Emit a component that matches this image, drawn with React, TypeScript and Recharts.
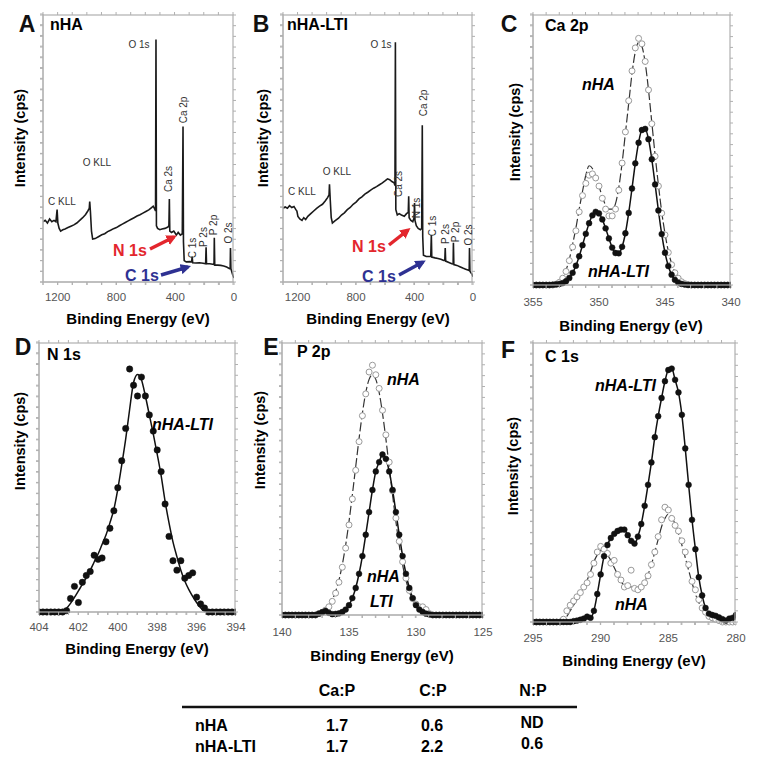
import React from "react";
import { ComposedChart, Line, XAxis, YAxis } from "recharts";

const FONT = "'Liberation Sans', Arial, Helvetica, sans-serif";
const FRAME = "#b0b0b0";

// survey spectra (binding energy eV, intensity a.u.)
const nhaSurvey: [number, number][] = [
  [1300, 22.5], [1285, 23], [1270, 22], [1255, 23.5], [1240, 22.5], [1225, 23], [1212, 22.5], [1204, 27], [1199, 22],
  [1190, 20], [1180, 19], [1165, 19.5], [1150, 19.8], [1130, 20.3], [1110, 20.8], [1090, 21.3], [1070, 22], [1050, 23],
  [1030, 24], [1010, 25.2], [995, 26.5], [985, 27.5], [982, 30], [977, 26], [970, 19], [962, 16], [945, 16.2], [920, 17],
  [900, 17.6], [880, 18], [860, 18.8], [840, 19.3], [820, 19.9], [800, 20.3], [780, 21], [760, 21.6], [740, 22.2],
  [720, 22.8], [700, 23.4], [680, 24], [660, 24.6], [640, 25.1], [620, 25.7], [600, 26.3], [580, 26.9], [565, 27.6],
  [550, 28.3], [540, 27.3], [534, 26.5], [531, 90.5], [528, 21], [520, 20], [505, 19.5], [490, 19.8], [470, 20],
  [450, 20.5], [443, 21], [440, 31], [437, 19], [425, 18.5], [410, 19], [400, 18.2], [392, 17.5], [380, 18.5],
  [365, 17.5], [352, 18], [347, 58], [344, 15], [339, 8], [325, 7.5], [300, 7.6], [288, 7.5], [285, 9.5], [281, 7.2],
  [260, 7.1], [235, 7.2], [210, 7], [193, 6.8], [190, 13], [187, 6.8], [165, 6.8], [145, 6.6], [136, 6.5], [134, 16.5],
  [131, 6.3], [110, 6.3], [90, 6.2], [70, 6], [50, 5.6], [30, 5], [26, 5], [24, 12.7], [21, 5], [15, 3.8], [8, 2.5], [0, 1.5],
];
const ltiSurvey: [number, number][] = [
  [1300, 27.5], [1285, 28], [1270, 27.5], [1255, 28.5], [1240, 27.8], [1225, 28.2], [1212, 27], [1205, 26.5], [1198, 24.5],
  [1185, 23.5], [1170, 23], [1158, 24], [1145, 23.3], [1130, 24.5], [1110, 25.5], [1090, 26.5], [1070, 27.5], [1050, 28.3],
  [1030, 29], [1010, 30.3], [995, 31.5], [985, 32.5], [982, 36.5], [977, 31], [970, 24], [962, 22], [945, 22.8], [920, 23.8],
  [900, 25], [880, 25.8], [860, 27], [840, 27.8], [820, 29], [800, 29.8], [780, 31], [760, 31.8], [740, 32.8], [720, 33.5],
  [700, 34.3], [680, 35], [660, 35.6], [640, 36.3], [620, 37], [600, 37.8], [585, 38.5], [570, 38.2], [555, 37.5],
  [540, 37], [534, 36], [531, 89.5], [528, 27], [518, 25], [505, 25.5], [490, 25], [470, 24.5], [455, 25.5], [443, 26],
  [440, 32], [437, 24], [425, 23], [412, 22.5], [403, 24], [400, 29.5], [397, 23], [388, 21], [375, 20], [360, 19.5],
  [351, 20], [347, 58.5], [344, 17], [339, 10], [320, 9.5], [300, 9.5], [289, 9.5], [285, 17.5], [282, 9.3], [260, 9],
  [240, 8.8], [220, 8.5], [200, 8], [193, 8], [190, 12.7], [187, 7.8], [165, 7.3], [145, 6.8], [136, 6.7], [134, 14.6],
  [131, 6.5], [110, 6.2], [90, 5.7], [70, 5.2], [50, 4.8], [30, 4.4], [26, 4.3], [24, 12.7], [21, 4], [15, 3.5], [8, 3], [0, 2],
];

// Ca 2p
const caEnergy = [
  355, 354.75, 354.5, 354.25, 354, 353.75, 353.5, 353.25, 353, 352.75, 352.5, 352.25, 352, 351.75, 351.5, 351.25,
  351, 350.75, 350.5, 350.25, 350, 349.75, 349.5, 349.25, 349, 348.75, 348.5, 348.25, 348, 347.75, 347.5, 347.25,
  347, 346.75, 346.5, 346.25, 346, 345.75, 345.5, 345.25, 345, 344.75, 344.5, 344.25, 344, 343.75, 343.5, 343.25,
  343, 342.75, 342.5, 342.25, 342, 341.75, 341.5, 341.25, 341, 340.75, 340.5, 340.25, 340,
];
const caNhaFit = [
  0, 0, 0, 0, 0, 0, 0,
  0.5, 1.5, 3, 5.5, 9.5, 15, 21, 28, 34.5, 40.5, 44, 43, 40, 36.5, 32.5, 29.5, 28, 28, 30, 36,
  45, 56, 67, 78, 86, 89.5, 88, 82, 72, 60, 48, 37, 27, 19, 12.5, 8, 4.8, 2.7, 1.4, 0.6, 0.2,
  0, 0, 0, 0, 0, 0, 0, 0, 0, 0, 0, 0, 0,
];
const caNhaPts = [
  0, 0, 0, 0, 0, 0, 0,
  0.3, 1, 2.5, 5, 9, 14, 20, 27, 33, 37.5, 40.5, 41, 39.5, 36.5, 32, 28, 25.5, 25.5, 28, 35,
  45, 56.5, 68, 79, 87.5, 91, 89, 82.5, 72, 59.5, 47.5, 36.5, 26.5, 18.5, 12, 7.5, 4.5, 2.5, 1.2, 0.5, 0.2,
  0, 0, 0, 0, 0, 0, 0, 0, 0, 0, 0, 0, 0,
];
const caLti = [
  0, 0, 0, 0, 0, 0, 0.1,
  0.2, 0.4, 0.7, 1.4, 2.6, 4.5, 7.1, 10.6, 14.7, 18.9, 22.8, 25.7, 27, 26.4, 24.2, 20.9, 17.2, 13.8, 11.8, 11.7,
  14.1, 19.1, 26.6, 35.6, 44.9, 52.5, 57.2, 57.6, 53.8, 46.4, 37.1, 27.5, 18.8, 11.9, 7, 3.8, 1.9, 0.9, 0.4, 0.15, 0,
  0, 0, 0, 0, 0, 0, 0, 0, 0, 0, 0, 0, 0,
];

// N 1s
const nEnergy = [
  404, 403.8, 403.6, 403.4, 403.2, 403, 402.8, 402.6, 402.4, 402.2, 402, 401.8, 401.6, 401.4, 401.2, 401, 400.8,
  400.6, 400.4, 400.2, 400, 399.8, 399.6, 399.4, 399.2, 399, 398.8, 398.6, 398.4, 398.2, 398, 397.8, 397.6, 397.4,
  397.2, 397, 396.8, 396.6, 396.4, 396.2, 396, 395.8, 395.6, 395.4, 395.2, 395, 394.8, 394.6, 394.4, 394.2, 394,
];
const nFit = [
  0, 0, 0, 0, 0, 0,
  0.3, 1.4, 3.2, 5.4, 7.8, 10.2, 12.7, 15.4, 18.5, 21.5, 25, 28.5, 33, 38, 45.5, 54.5, 64, 75, 85, 88,
  86, 80, 73, 66, 58.5, 50.5, 41, 33, 26, 20.5, 15.5, 11.5, 8.4, 5.8, 3.5, 1.6, 0.3,
  0, 0, 0, 0, 0, 0, 0, 0,
];
const nPts = [
  0, 0, 0, 0, 0, 0, 0, 0.5,
  5, 9.5, 3.5, 11, 13.5, 15, 21, 19.5, 20, 26, 31, 37.5, 46, 56, 68, 90, 84, 80, 87, 80,
  73, 67, 60, 52, 40, 28, 19, 15.5, 19, 12.5, 13.5, 14.5, 5.5, 3, 1.5,
  0, 0, 0, 0, 0, 0, 0, 0,
];

// P 2p
const pEnergy = [
  140, 139.75, 139.5, 139.25, 139, 138.75, 138.5, 138.25, 138, 137.75, 137.5, 137.25, 137, 136.75, 136.5, 136.25,
  136, 135.75, 135.5, 135.25, 135, 134.75, 134.5, 134.25, 134, 133.75, 133.5, 133.25, 133, 132.75, 132.5, 132.25,
  132, 131.75, 131.5, 131.25, 131, 130.75, 130.5, 130.25, 130, 129.75, 129.5, 129.25, 129, 128.75, 128.5, 128.25,
  128, 127.75, 127.5, 127.25, 127, 126.75, 126.5, 126.25, 126, 125.75, 125.5, 125.25, 125,
];
const pNhaFit = [
  0, 0, 0, 0, 0, 0, 0, 0, 0, 0, 0,
  0.6, 1.1, 2, 3.4, 5.5, 8.6, 12.8, 18.4, 25.6, 34.2, 44, 54.3, 64.6, 73.9, 81.5, 86.3, 88, 86.3, 81.5, 73.9,
  64.6, 54.3, 44, 34.2, 25.6, 18.4, 12.8, 8.6, 5.5, 3.4, 2, 1.1, 0.6, 0.3,
  0, 0, 0, 0, 0, 0, 0, 0, 0, 0, 0, 0, 0, 0, 0, 0,
];
const pNhaPts = [
  0, 0, 0, 0, 0, 0, 0, 0, 0, 0, 0,
  0.5, 1, 1.8, 3, 5, 8, 12, 17.5, 24.5, 33, 42.5, 53, 63.5, 73, 81, 89, 91.5, 88, 83, 75,
  66, 56, 45.5, 35.5, 27, 19.5, 13.5, 9, 6, 4, 3, 3, 2, 0.5,
  0, 0, 0, 0, 0, 0, 0, 0, 0, 0, 0, 0, 0, 0, 0, 0,
];
const pLti = [
  0, 0, 0, 0, 0, 0, 0, 0, 0, 0, 0, 0.5, 1, 1.5, 0.8,
  0.3, 0.4, 0.6, 1.1, 2, 3.6, 6.2, 9.9, 15.1, 21.6, 29.4, 37.7, 45.8, 52.6, 56, 58.8, 57.2, 52.6, 45.8, 37.7,
  29.4, 21.6, 15.1, 9.9, 6.2, 3.6, 2, 1.1, 0.5, 0.2,
  0, 0, 0, 0, 0, 0, 0, 0, 0, 0, 0, 0, 0, 0, 0, 0,
];

// C 1s
const cEnergy = [
  295, 294.75, 294.5, 294.25, 294, 293.75, 293.5, 293.25, 293, 292.75, 292.5, 292.25, 292, 291.75, 291.5, 291.25,
  291, 290.75, 290.5, 290.25, 290, 289.75, 289.5, 289.25, 289, 288.75, 288.5, 288.25, 288, 287.75, 287.5, 287.25,
  287, 286.75, 286.5, 286.25, 286, 285.75, 285.5, 285.25, 285, 284.75, 284.5, 284.25, 284, 283.75, 283.5, 283.25,
  283, 282.75, 282.5, 282.25, 282, 281.75, 281.5, 281.25, 281, 280.75, 280.5, 280.25, 280,
];
const cLti = [
  0, 0, 0, 0, 0, 0, 0, 0, 0, 0, 0, 0,
  0.3, 0.5, 0.8, 1.2, 1.9, 1.5, 4, 10, 17, 23.5, 27.5, 30, 31.5, 32.5, 33, 33, 31, 29, 28, 30.5,
  35, 41.5, 49, 57, 66, 73.5, 80, 86, 90, 90.5, 86.5, 82, 74, 62, 49, 36.5, 26, 16, 9.5, 5,
  3, 2.5, 2.2, 1.6, 1, 0.5, 1.2, 1.5, 2.5,
];
const cNhaPts = [
  0, 0, 0, 0, 0, 0, 0, 0, 0,
  1, 4, 6, 7.5, 9, 10.5, 12.5, 14, 17, 21, 25, 27, 26, 24.5, 21, 22, 17, 15, 12.5, 13,
  18.5, 12, 11.5, 12.5, 14, 16.5, 20.5, 25, 30.5, 36.5, 41, 40, 37, 34.5, 32.5, 29, 25, 20.5, 14.5, 11.5,
  8, 5, 3.5, 2, 1.5, 1, 0.5,
  0, 0, 0, 0, 0,
];
const cNhaFit = [
  0, 0, 0, 0, 0, 0, 0, 0, 0,
  0.5, 2, 4, 6, 8, 10, 12.5, 15, 18, 21.5, 24, 25.5, 25.5, 24, 22, 19.5, 17, 14.5, 13, 12.5,
  12.5, 12.5, 12.5, 13, 14.5, 17, 20.5, 25, 29.5, 34, 37, 38.5, 37.5, 35, 31.5, 27.5, 23, 18.5, 14, 10,
  7, 4.5, 2.5, 1.2, 0.5,
  0, 0, 0, 0, 0, 0, 0,
];

// axis ticks
const surveyTicks = [1300, 1200, 1100, 1000, 900, 800, 700, 600, 500, 400, 300, 200, 100, 0];
const surveyLabels = [1200, 800, 400, 0];
const caTicks = [355, 354, 353, 352, 351, 350, 349, 348, 347, 346, 345, 344, 343, 342, 341, 340];
const caLabels = [355, 350, 345, 340];
const nTicks = [404, 403.5, 403, 402.5, 402, 401.5, 401, 400.5, 400, 399.5, 399, 398.5, 398, 397.5, 397, 396.5, 396, 395.5, 395, 394.5, 394];
const nLabels = [404, 402, 400, 398, 396, 394];
const pTicks = [140, 139, 138, 137, 136, 135, 134, 133, 132, 131, 130, 129, 128, 127, 126, 125];
const pLabels = [140, 135, 130, 125];
const cTicks = [295, 294, 293, 292, 291, 290, 289, 288, 287, 286, 285, 284, 283, 282, 281, 280];
const cLabels = [295, 290, 285, 280];
const yTicks = [0, 4, 8, 12, 16, 20, 24, 28, 32, 36, 40, 44, 48, 52, 56, 60, 64, 68, 72, 76, 80, 84, 88, 92, 96, 100];

// ratio table
const tableCols = ["Ca:P", "C:P", "N:P"];
const tableRows: [string, string, string, string][] = [
  ["nHA", "1.7", "0.6", "ND"],
  ["nHA-LTI", "1.7", "2.2", "0.6"],
];

const rowsOf = (energy: number[], cols: Record<string, number[]>) =>
  energy.map((e, i) => {
    const r: Record<string, number> = { e };
    for (const k in cols) r[k] = cols[k][i];
    return r;
  });
const pairRows = (p: [number, number][]) => p.map(([e, v]) => ({ e, v }));

type Frame = { x: number; y: number; w: number; h: number };

// plot boxes in page pixels
const frames: Record<string, Frame> = {
  A: { x: 43, y: 15, w: 190, h: 267 },
  B: { x: 283, y: 15, w: 189, h: 267 },
  C: { x: 533, y: 15, w: 197, h: 270 },
  D: { x: 39, y: 343, w: 196, h: 269 },
  E: { x: 282, y: 343, w: 200, h: 272 },
  F: { x: 533, y: 343, w: 202, h: 279 },
};

function Panel({ frame, data, domain, ticks, labels, tickMargin, children }: {
  frame: Frame; data: Record<string, number>[]; domain: [number, number]; ticks: number[];
  labels: number[]; tickMargin: number; children: React.ReactNode;
}) {
  const m = { top: 5, right: 13, bottom: 29, left: 13 };
  return (
    <div style={{ position: "absolute", left: frame.x - m.left - 1, top: frame.y - m.top - 1 }}>
      <ComposedChart width={frame.w + m.left + m.right + 2} height={frame.h + m.top + m.bottom + 2} data={data} margin={m}>
        <XAxis dataKey="e" type="number" domain={domain} reversed allowDataOverflow ticks={ticks} interval={0}
          tickFormatter={(v: number) => (labels.includes(v) ? String(v) : "")} height={1}
          axisLine={{ stroke: FRAME }} tickLine={{ stroke: FRAME }} tickSize={3}
          tickMargin={tickMargin} tick={{ fill: "#555", fontSize: 11.5, fontFamily: FONT }} />
        <YAxis type="number" domain={[0, 100]} ticks={yTicks} interval={0} tickFormatter={() => ""} width={1}
          axisLine={{ stroke: FRAME }} tickLine={{ stroke: FRAME }} tickSize={3} />
        {children}
      </ComposedChart>
    </div>
  );
}

// light frame box with short outward ticks
function FrameBox({ f, domain, ticks }: { f: Frame; domain: [number, number]; ticks: number[] }) {
  const px = (v: number) => f.x + ((domain[1] - v) / (domain[1] - domain[0])) * f.w;
  const py = (v: number) => f.y + f.h - (v / 100) * f.h;
  return (
    <g>
      <rect x={f.x} y={f.y} width={f.w} height={f.h} fill="none" stroke={FRAME} strokeWidth={1.2} />
      {ticks.map((t) => (
        <path key={"x" + t} d={`M${px(t)},${f.y + f.h}v3M${px(t)},${f.y}v-3`} stroke={FRAME} strokeWidth={1} fill="none" />
      ))}
      {yTicks.map((t) => (
        <path key={"y" + t} d={`M${f.x},${py(t)}h-3M${f.x + f.w},${py(t)}h3`} stroke={FRAME} strokeWidth={1} fill="none" />
      ))}
    </g>
  );
}

const openDot = { r: 3, fill: "#fff", stroke: "#9a9a9a", strokeWidth: 1 };
const fullDot = { r: 2.9, fill: "#111", stroke: "#111", strokeWidth: 0.5 };

function Rot({ x, y, s }: { x: number; y: number; s: string }) {
  return (
    <text transform={`translate(${x},${y}) rotate(-90)`} textAnchor="middle" dominantBaseline="central"
      fontSize={10} fill="#333">{s}</text>
  );
}

export default function App() {
  const caData = rowsOf(caEnergy, { fit: caNhaFit, pts: caNhaPts, lti: caLti });
  const nData = rowsOf(nEnergy, { fit: nFit, pts: nPts });
  const pData = rowsOf(pEnergy, { fit: pNhaFit, pts: pNhaPts, lti: pLti });
  const cData = rowsOf(cEnergy, { fit: cNhaFit, pts: cNhaPts, lti: cLti });
  const bold = { fontWeight: 700 } as const;
  const it = { fontWeight: 700, fontStyle: "italic" } as const;

  return (
    <div style={{ position: "absolute", left: 0, top: 0, width: 763, height: 771, background: "#fff", fontFamily: FONT }}>
      <Panel frame={frames.A} data={pairRows(nhaSurvey)} domain={[0, 1300]}
        ticks={surveyTicks} labels={surveyLabels} tickMargin={8}>
        <Line dataKey="v" type="linear" stroke="#1a1a1a" strokeWidth={1.6} dot={false} isAnimationActive={false} />
      </Panel>
      <Panel frame={frames.B} data={pairRows(ltiSurvey)} domain={[0, 1300]}
        ticks={surveyTicks} labels={surveyLabels} tickMargin={8}>
        <Line dataKey="v" type="linear" stroke="#1a1a1a" strokeWidth={1.6} dot={false} isAnimationActive={false} />
      </Panel>
      <Panel frame={frames.C} data={caData} domain={[340, 355]}
        ticks={caTicks} labels={caLabels} tickMargin={10}>
        <Line dataKey="pts" stroke="none" dot={openDot} activeDot={false} isAnimationActive={false} />
        <Line dataKey="fit" type="monotone" stroke="#333" strokeWidth={1.2} strokeDasharray="9 3" dot={false} isAnimationActive={false} />
        <Line dataKey="lti" type="monotone" stroke="#111" strokeWidth={1.5} dot={fullDot} activeDot={false} isAnimationActive={false} />
      </Panel>
      <Panel frame={frames.D} data={nData} domain={[394, 404]}
        ticks={nTicks} labels={nLabels} tickMargin={8}>
        <Line dataKey="fit" type="monotone" stroke="#111" strokeWidth={1.5} dot={false} isAnimationActive={false} />
        <Line dataKey="pts" stroke="none" dot={{ ...fullDot, r: 3.2 }} activeDot={false} isAnimationActive={false} />
      </Panel>
      <Panel frame={frames.E} data={pData} domain={[125, 140]}
        ticks={pTicks} labels={pLabels} tickMargin={10}>
        <Line dataKey="pts" stroke="none" dot={openDot} activeDot={false} isAnimationActive={false} />
        <Line dataKey="fit" type="monotone" stroke="#333" strokeWidth={1.2} strokeDasharray="9 3" dot={false} isAnimationActive={false} />
        <Line dataKey="lti" type="monotone" stroke="#111" strokeWidth={1.5} dot={fullDot} activeDot={false} isAnimationActive={false} />
      </Panel>
      <Panel frame={frames.F} data={cData} domain={[280, 295]}
        ticks={cTicks} labels={cLabels} tickMargin={9}>
        <Line dataKey="pts" stroke="none" dot={openDot} activeDot={false} isAnimationActive={false} />
        <Line dataKey="fit" type="monotone" stroke="#333" strokeWidth={1.2} strokeDasharray="9 3" dot={false} isAnimationActive={false} />
        <Line dataKey="lti" type="monotone" stroke="#111" strokeWidth={1.5} dot={fullDot} activeDot={false} isAnimationActive={false} />
      </Panel>

      <svg width={763} height={771} style={{ position: "absolute", left: 0, top: 0, pointerEvents: "none" }} fontFamily={FONT}>
        <defs>
          <marker id="ahR" viewBox="0 0 10 10" refX="7" refY="5" markerWidth="3" markerHeight="3" orient="auto">
            <path d="M0,0 L10,5 L0,10 z" fill="#e3262d" />
          </marker>
          <marker id="ahB" viewBox="0 0 10 10" refX="7" refY="5" markerWidth="3" markerHeight="3" orient="auto">
            <path d="M0,0 L10,5 L0,10 z" fill="#2e3192" />
          </marker>
        </defs>

        {/* panel frames */}
        <FrameBox f={frames.A} domain={[0, 1300]} ticks={surveyTicks} />
        <FrameBox f={frames.B} domain={[0, 1300]} ticks={surveyTicks} />
        <FrameBox f={frames.C} domain={[340, 355]} ticks={caTicks} />
        <FrameBox f={frames.D} domain={[394, 404]} ticks={nTicks} />
        <FrameBox f={frames.E} domain={[125, 140]} ticks={pTicks} />
        <FrameBox f={frames.F} domain={[280, 295]} ticks={cTicks} />

        {/* panel letters */}
        {([["A", 27, 32], ["B", 261, 32], ["C", 509, 32], ["D", 23, 355], ["E", 271, 355], ["F", 508, 358]] as [string, number, number][]).map(
          ([s, x, y]) => <text key={s} x={x} y={y} textAnchor="middle" fontSize={23} {...bold} fill="#111">{s}</text>)}

        {/* panel titles */}
        <text x={50} y={30} fontSize={16} {...bold}>nHA</text>
        <text x={287} y={30} fontSize={16} {...bold}>nHA-LTI</text>
        <text x={545} y={31} fontSize={16} {...bold}>Ca 2p</text>
        <text x={47} y={360} fontSize={16} {...bold}>N 1s</text>
        <text x={297} y={357} fontSize={16} {...bold}>P 2p</text>
        <text x={545} y={362} fontSize={16} {...bold}>C 1s</text>

        {/* axis titles */}
        <text x={138} y={324} textAnchor="middle" fontSize={15} {...bold}>Binding Energy (eV)</text>
        <text x={378} y={324} textAnchor="middle" fontSize={15} {...bold}>Binding Energy (eV)</text>
        <text x={631} y={331} textAnchor="middle" fontSize={15} {...bold}>Binding Energy (eV)</text>
        <text x={137} y={654} textAnchor="middle" fontSize={15} {...bold}>Binding Energy (eV)</text>
        <text x={382} y={661} textAnchor="middle" fontSize={15} {...bold}>Binding Energy (eV)</text>
        <text x={634} y={666} textAnchor="middle" fontSize={15} {...bold}>Binding Energy (eV)</text>
        {([[20, 138], [263, 138], [515, 132], [20, 441], [260, 440], [513, 466]] as [number, number][]).map(([x, y], i) => (
          <text key={"yt" + i} transform={`translate(${x},${y}) rotate(-90)`} textAnchor="middle" dominantBaseline="central"
            fontSize={14.5} {...bold}>Intensity (cps)</text>
        ))}

        {/* survey peak labels A */}
        <text x={62} y={205} textAnchor="middle" fontSize={10} fill="#333">C KLL</text>
        <text x={97} y={166} textAnchor="middle" fontSize={10} fill="#333">O KLL</text>
        <text x={139} y={48} textAnchor="middle" fontSize={10} fill="#333">O 1s</text>
        <Rot x={168} y={179} s="Ca 2s" />
        <Rot x={183} y={110} s="Ca 2p" />
        <Rot x={192} y={248} s="C 1s" />
        <Rot x={203} y={237} s="P 2s" />
        <Rot x={213} y={225} s="P 2p" />
        <Rot x={228} y={233} s="O 2s" />
        <text x={113} y={256} fontSize={16} {...bold} fill="#e3262d">N 1s</text>
        <line x1={150} y1={249} x2={174} y2={237} stroke="#e3262d" strokeWidth={3.5} markerEnd="url(#ahR)" />
        <text x={125} y={281} fontSize={16} {...bold} fill="#2e3192">C 1s</text>
        <line x1={161} y1={275} x2={188} y2={267} stroke="#2e3192" strokeWidth={3.5} markerEnd="url(#ahB)" />

        {/* survey peak labels B */}
        <text x={302} y={195} textAnchor="middle" fontSize={10} fill="#333">C KLL</text>
        <text x={337} y={175} textAnchor="middle" fontSize={10} fill="#333">O KLL</text>
        <text x={381} y={48} textAnchor="middle" fontSize={10} fill="#333">O 1s</text>
        <Rot x={398} y={184} s="Ca 2s" />
        <Rot x={416} y={208} s="N 1s" />
        <Rot x={423} y={103} s="Ca 2p" />
        <Rot x={432} y={226} s="C 1s" />
        <Rot x={445} y={234} s="P 2s" />
        <Rot x={455} y={232} s="P 2p" />
        <Rot x={468} y={235} s="O 2s" />
        <text x={352} y={252} fontSize={16} {...bold} fill="#e3262d">N 1s</text>
        <line x1={389} y1={245} x2={408} y2={230} stroke="#e3262d" strokeWidth={3.5} markerEnd="url(#ahR)" />
        <text x={362} y={282} fontSize={16} {...bold} fill="#2e3192">C 1s</text>
        <line x1={399} y1={275} x2={423} y2={262} stroke="#2e3192" strokeWidth={3.5} markerEnd="url(#ahB)" />

        {/* series labels */}
        <text x={582} y={90} fontSize={16} {...it}>nHA</text>
        <text x={588} y={277} fontSize={16} {...it}>nHA-LTI</text>
        <text x={152} y={430} fontSize={16} {...it}>nHA-LTI</text>
        <text x={387} y={385} fontSize={16} {...it}>nHA</text>
        <text x={367} y={582} fontSize={16} {...it}>nHA</text>
        <text x={370} y={607} fontSize={16} {...it}>LTI</text>
        <text x={595} y={391} fontSize={16} {...it}>nHA-LTI</text>
        <text x={615} y={610} fontSize={16} {...it}>nHA</text>

        {/* ratio table */}
        {tableCols.map((c, i) => (
          <text key={c} x={[337, 433, 533][i]} y={696} textAnchor="middle" fontSize={16} {...bold}>{c}</text>
        ))}
        <line x1={182} x2={577} y1={707} y2={707} stroke="#111" strokeWidth={2.5} />
        {tableRows.map((r, j) => (
          <g key={r[0]}>
            <text x={195} y={[731, 752][j]} fontSize={16} {...bold}>{r[0]}</text>
            {r.slice(1).map((v, i) => (
              <text key={i} x={[337, 432, 532][i]} y={[731, 752][j] - (i === 2 ? 3 : 0)} textAnchor="middle" fontSize={16} {...bold}>{v}</text>
            ))}
          </g>
        ))}
      </svg>
    </div>
  );
}
